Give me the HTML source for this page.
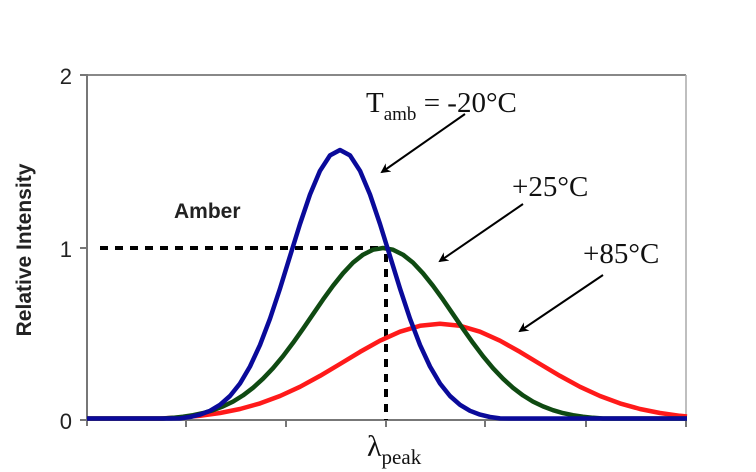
<!DOCTYPE html>
<html><head><meta charset="utf-8"><style>
html,body{margin:0;padding:0;background:#fff;}
svg{display:block;}
</style></head><body>
<svg width="756" height="472" viewBox="0 0 756 472" xmlns="http://www.w3.org/2000/svg">
<defs>
<marker id="ah" markerWidth="10" markerHeight="10" refX="8" refY="5" orient="auto" markerUnits="userSpaceOnUse">
<path d="M0,0 L10,5 L0,10 L3,5 Z" fill="#000"/>
</marker>
</defs>
<rect width="756" height="472" fill="#fff"/>
<line x1="87" y1="75" x2="686" y2="75" stroke="#888" stroke-width="2"/>
<line x1="686" y1="75" x2="686" y2="420" stroke="#aaa" stroke-width="1.5"/>
<line x1="87" y1="74" x2="87" y2="426" stroke="#777" stroke-width="2"/>
<line x1="80" y1="420" x2="687" y2="420" stroke="#777" stroke-width="2"/>
<g stroke="#777" stroke-width="2">
<line x1="80" y1="75" x2="87" y2="75"/><line x1="80" y1="248" x2="87" y2="248"/>
<line x1="186" y1="420" x2="186" y2="427"/><line x1="286" y1="420" x2="286" y2="427"/>
<line x1="386" y1="420" x2="386" y2="427"/><line x1="485" y1="420" x2="485" y2="427"/>
<line x1="586" y1="420" x2="586" y2="427"/><line x1="686" y1="420" x2="686" y2="427"/>
</g>
<g font-family="Liberation Sans, sans-serif" font-size="22" fill="#222" text-anchor="end">
<text x="72" y="84">2</text><text x="72" y="257">1</text><text x="72" y="429">0</text>
</g>
<text transform="translate(31,250) rotate(-90)" font-family="Liberation Sans, sans-serif" font-weight="bold" font-size="21" text-anchor="middle" fill="#222">Relative Intensity</text>
<text x="174" y="218" font-family="Liberation Sans, sans-serif" font-weight="bold" font-size="21" fill="#222">Amber</text>
<line x1="100" y1="248" x2="386" y2="248" stroke="#000" stroke-width="4" stroke-dasharray="8,7"/>
<line x1="386" y1="254" x2="386" y2="420" stroke="#000" stroke-width="4" stroke-dasharray="8,7"/>
<g fill="none" stroke-width="4.5" stroke-linejoin="round">
<polyline stroke="#ff1a1a" points="87,418.5 160,418.5 180,417.5 200,415.8 220,413.0 240,409.0 260,403.4 280,396.0 300,386.8 320,375.9 340,364.0 360,351.9 380,340.7 400,331.7 420,325.8 440,323.7 460,325.8 480,331.7 500,340.7 520,351.9 540,364.0 560,375.9 580,386.8 600,396.0 620,403.4 640,409.0 660,413.0 680,415.8 687,416.5"/>
<polyline stroke="#0f4a12" points="87,418.5 163,418.5 173,417.8 183,416.7 193,415.2 203,413.1 213,410.2 223,406.4 233,401.6 243,395.4 253,387.8 263,378.7 273,368.2 283,356.2 293,342.9 303,328.8 313,314.2 323,299.6 333,285.8 343,273.3 353,262.6 363,254.7 373,249.7 383,248 393,249.7 403,254.7 413,262.6 423,273.3 433,285.8 443,299.6 453,314.2 463,328.8 473,342.9 483,356.2 493,368.2 503,378.7 513,387.8 523,395.4 533,401.6 543,406.4 553,410.2 563,413.1 573,415.2 583,416.7 593,417.8 603,418.5 687,418.5"/>
<polyline stroke="#0a0a9a" points="87,418.5 170,418.5 180,418.4 190,417.0 200,414.6 210,410.8 220,404.8 230,396.0 240,383.5 250,366.5 260,344.9 270,318.7 280,288.6 290,256.2 300,224.0 310,194.5 320,170.8 330,155.4 340,150 350,155.4 360,170.8 370,194.5 380,224.0 390,256.2 400,288.6 410,318.7 420,344.9 430,366.5 440,383.5 450,396.0 460,404.8 470,410.8 480,414.6 490,417.0 500,418.4 510,418.5 687,418.5"/>
</g>
<g stroke="#000" stroke-width="2" marker-end="url(#ah)">
<line x1="465" y1="114" x2="382" y2="172"/>
<line x1="523" y1="204" x2="440" y2="261"/>
<line x1="603" y1="275" x2="520" y2="331"/>
</g>
<g font-family="Liberation Serif, serif" fill="#111">
<text x="366" y="112" font-size="29">T<tspan font-size="19" dy="8">amb</tspan><tspan dy="-8"> = -20°C</tspan></text>
<text x="512" y="196" font-size="29">+25°C</text>
<text x="583" y="263" font-size="29">+85°C</text>
<text x="367" y="456" font-size="30">λ<tspan font-size="21" dy="8">peak</tspan></text>
</g>
</svg>
</body></html>
